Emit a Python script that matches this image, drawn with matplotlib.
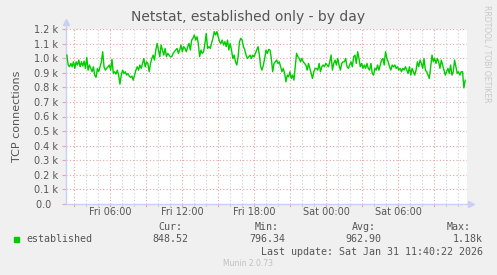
import numpy as np
import matplotlib
matplotlib.use('Agg')
import matplotlib.pyplot as plt

# established connections, one reading every ~6.7 minutes
established = [
    1021, 953, 941, 964, 941, 975, 930, 975, 953, 987, 941, 975, 946, 980, 930,
    1005, 918, 953, 930, 907, 941, 884, 868, 930, 907, 941, 975, 1044, 941, 918,
    930, 941, 953, 918, 992, 895, 907, 891, 918, 884, 822, 884, 918, 895, 907,
    884, 895, 877, 868, 877, 849, 884, 918, 941, 918, 953, 930, 964, 998, 941,
    975, 964, 907, 964, 998, 1021, 987, 1056, 1101, 1056, 1010, 1090, 1056, 1021,
    1067, 1010, 1033, 1021, 1010, 1010, 1033, 1044, 1056, 1067, 1033, 1056, 1090,
    1044, 1079, 1067, 1044, 1079, 1101, 1056, 1124, 1136, 1159, 1124, 1147, 1101,
    1010, 1056, 1033, 1044, 1101, 1170, 1067, 1079, 1067, 1101, 1136, 1182, 1159,
    1182, 1147, 1113, 1101, 1124, 1090, 1113, 1079, 1124, 1056, 1101, 1056, 998,
    1021, 975, 953, 1010, 1113, 1136, 1124, 1079, 1056, 1021, 998, 1010, 1021,
    998, 1021, 1010, 1033, 1056, 1079, 1021, 941, 918, 953, 998, 1056, 1033, 1060,
    1056, 998, 907, 964, 975, 987, 964, 975, 941, 907, 930, 895, 838, 884, 872,
    907, 861, 884, 849, 941, 1033, 1010, 998, 975, 998, 975, 964, 953, 918, 964,
    930, 895, 861, 907, 930, 930, 918, 964, 907, 941, 953, 941, 964, 953, 941,
    975, 1021, 918, 964, 987, 953, 998, 953, 918, 964, 975, 975, 998, 941, 930,
    953, 975, 941, 1010, 1021, 964, 1044, 998, 941, 964, 930, 953, 930, 964, 930,
    918, 964, 895, 884, 930, 918, 953, 918, 953, 987, 998, 953, 1044, 998, 975,
    941, 918, 953, 941, 953, 930, 941, 918, 930, 907, 930, 918, 941, 918, 895,
    941, 884, 930, 907, 884, 918, 975, 941, 987, 964, 930, 998, 918, 907, 884,
    861, 941, 1021, 975, 998, 964, 998, 975, 930, 987, 953, 918, 884, 907, 930,
    895, 953, 884, 907, 987, 941, 895, 907, 884, 907, 907, 796, 849,
]

# hours since Fri 00:00
t_start = 2.4
t_end = 35.6
x_left = 2.33
x_right = 35.75

tick_hours = [6, 12, 18, 24, 30]
tick_labels = ['Fri 06:00', 'Fri 12:00', 'Fri 18:00', 'Sat 00:00', 'Sat 06:00']
y_ticks = [0, 100, 200, 300, 400, 500, 600, 700, 800, 900, 1000, 1100, 1200]
y_labels = ['0.0  '] + ['%.1f k' % (v / 1000) for v in y_ticks[1:]]

txt = '#555555'
axis_col = '#c9cff5'
major_col = '#e8a3a3'
minor_col = '#cfcfcf'
green = '#00cc00'

fig = plt.figure(figsize=(4.97, 2.75), dpi=100, facecolor='#f0f0f0')
ax = fig.add_axes([66 / 497, 1 - 204 / 275, 401 / 497, 175 / 275])
ax.set_facecolor('white')

times = np.linspace(t_start, t_end, len(established))
ax.plot(times, established, color=green, lw=1.0, zorder=3)

ax.set_xlim(x_left, x_right)
ax.set_ylim(0, 1200)

# grid: grey every hour, red every 3 hours, red every 100
for h in range(3, 36):
    col = major_col if h % 3 == 0 else minor_col
    ax.axvline(h, color=col, lw=0.8, ls=(0, (1, 2)), zorder=1)
    ax.plot([h, h], [0, -12], color=col, lw=0.8, clip_on=False, zorder=1)
for v in y_ticks[1:]:
    ax.axhline(v, color=major_col, lw=0.8, ls=(0, (1, 2)), zorder=1)

ax.set_xticks(tick_hours)
ax.set_xticklabels(tick_labels)
ax.set_yticks(y_ticks)
ax.set_yticklabels(y_labels)
ax.tick_params(axis='x', length=0, pad=2.5, labelsize=7, labelcolor=txt)
ax.tick_params(axis='y', length=3, width=0.8, color=major_col, pad=3,
               labelsize=7, labelcolor=txt)

for s in ['top', 'right']:
    ax.spines[s].set_visible(False)
for s in ['left', 'bottom']:
    ax.spines[s].set_color(axis_col)
    ax.spines[s].set_linewidth(1)

# axis arrows
ax.plot([x_left, x_left], [1200, 1245], color=axis_col, lw=1, clip_on=False)
ax.plot([x_left], [1250], marker='^', ms=5, color=axis_col, clip_on=False)
ax.plot([x_right, x_right + 0.25], [0, 0], color=axis_col, lw=1, clip_on=False)
ax.plot([x_right + 0.3], [0], marker='>', ms=5, color=axis_col, clip_on=False)

ax.set_ylabel('TCP connections', fontsize=8, color=txt, labelpad=8)

fig.text(0.5, 1 - 17 / 275, 'Netstat, established only - by day',
         ha='center', va='center', fontsize=10, color=txt)
fig.text(487 / 497, 1 - 5 / 275, 'RRDTOOL / TOBI OETIKER', rotation=270,
         ha='center', va='top', fontsize=5.5, color='#c8c8c8')

mono = dict(family='DejaVu Sans Mono', fontsize=7.2, color=txt, va='center')


def ftext(x, y, s, **kw):
    fig.text(x / 497, 1 - y / 275, s, **{**mono, **kw})


ftext(158, 227, 'Cur:')
ftext(255, 227, 'Min:')
ftext(352, 227, 'Avg:')
ftext(447, 227, 'Max:')

ftext(26, 239, 'established')
ftext(188, 239, '%.2f' % 848.52, ha='right')
ftext(285, 239, '%.2f' % 796.34, ha='right')
ftext(381, 239, '%.2f' % 962.90, ha='right')
ftext(483, 239, '1.18k', ha='right')
fig.patches.append(plt.Rectangle((14 / 497, 1 - 242 / 275), 5 / 497, 5 / 275,
                                 transform=fig.transFigure, color=green))
ftext(483, 252, 'Last update: Sat Jan 31 11:40:22 2026', ha='right')
fig.text(248 / 497, 1 - 264 / 275, 'Munin 2.0.73', ha='center', va='center',
         fontsize=5.5, color='#c0c0c0')

fig.savefig('out.png', dpi=100, facecolor=fig.get_facecolor())
